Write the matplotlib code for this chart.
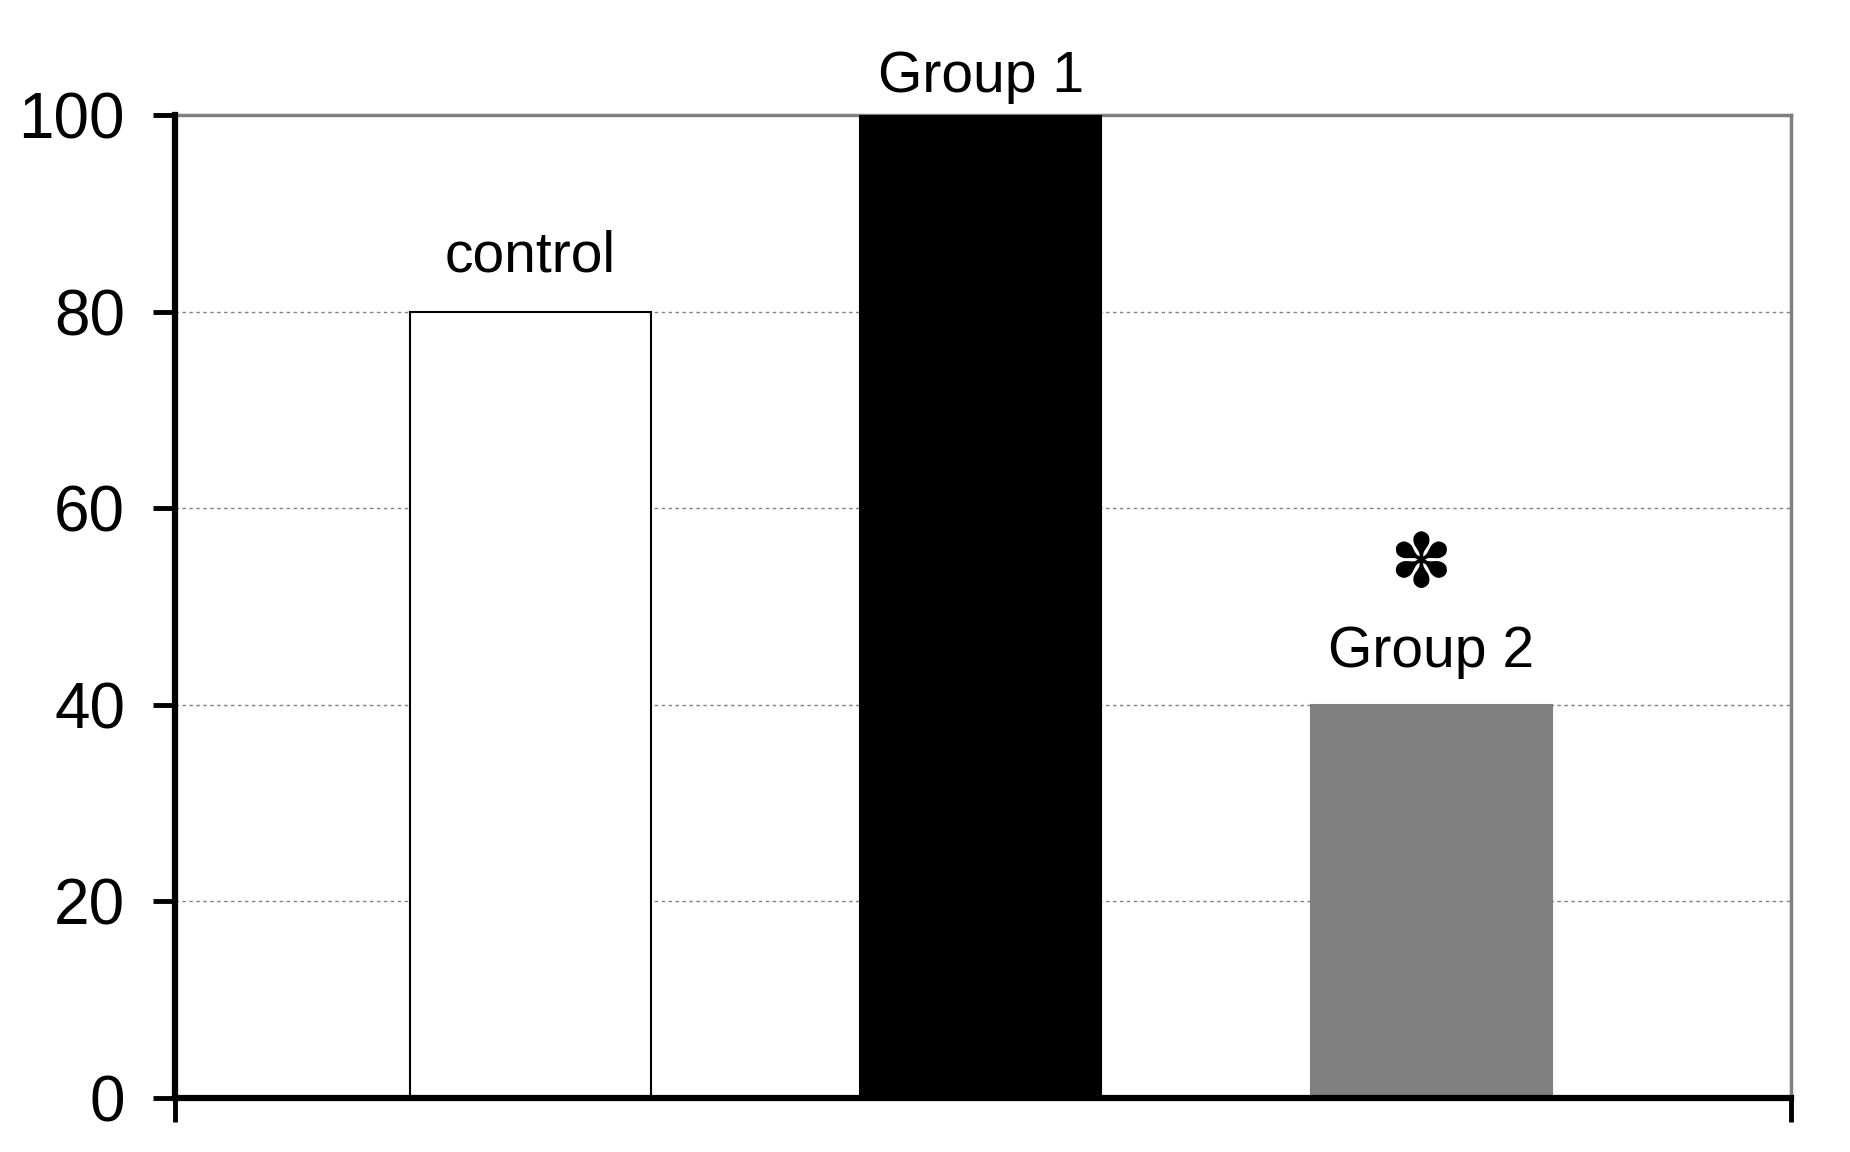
import matplotlib
matplotlib.use("Agg")
import matplotlib.pyplot as plt

categories = ["control", "Group 1", "Group 2"]
values = [80, 100, 40]
yticks = [0, 20, 40, 60, 80, 100]
significance = ["", "", "\u273D"]

colors = ["white", "black", "#808080"]
edges = ["black", "black", "#808080"]

plt.rcParams['font.family'] = ['Liberation Sans', 'DejaVu Sans']

fig = plt.figure(figsize=(18.5, 11.52), dpi=100)
ax = fig.add_axes([175/1850, 1 - 1098/1152, (1791-175)/1850, (1098-115)/1152])

x = list(range(len(categories)))
ax.bar(x, values, width=0.535, color=colors, edgecolor=edges, linewidth=1.5, zorder=3)

ax.set_xlim(-0.788, 2.798)
ax.set_ylim(0, 100)
ax.set_yticks(yticks)
ax.set_yticklabels([str(t) for t in yticks], fontsize=46)
ax.set_xticks([-0.788, 2.798])
ax.set_xticklabels(["", ""])

ax.tick_params(axis='y', direction='out', length=16, width=3.5, pad=20, color='black')
ax.tick_params(axis='x', direction='out', length=17, width=3.5, color='black')

for g in [20, 40, 60, 80]:
    ax.axhline(g, color='#808080', linewidth=1, linestyle=(0, (2.5, 2.5)), zorder=1)

for side in ['left', 'bottom']:
    ax.spines[side].set_linewidth(4.5)
    ax.spines[side].set_color('black')
    ax.spines[side].set_zorder(5)
for side in ['top', 'right']:
    ax.spines[side].set_linewidth(2.5)
    ax.spines[side].set_color('#808080')

label_off = [4.1, 2.3, 3.8]
for xi, v, c, off in zip(x, values, categories, label_off):
    ax.text(xi, v + off, c, ha='center', va='baseline', fontsize=41, clip_on=False)

for xi, v, s in zip(x, values, significance):
    if s:
        ax.text(xi - 0.025, v + 14.1, s, ha='center', va='center', fontsize=54,
                family=['DejaVu Sans'], clip_on=False)

fig.savefig("out.png", dpi=100, facecolor='white')
